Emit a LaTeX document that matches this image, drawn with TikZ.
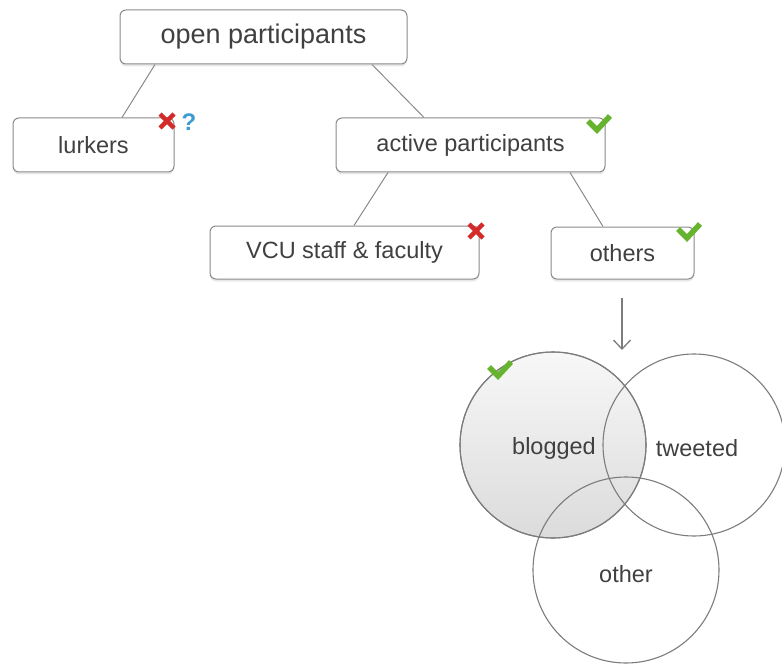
\documentclass[tikz,border=0pt]{standalone}
\usepackage{fontspec}
\setmainfont{Liberation Sans}
\usetikzlibrary{arrows.meta,shadows}
\definecolor{txt}{HTML}{404040}
\definecolor{edge}{HTML}{8A8A8A}
\definecolor{okgreen}{HTML}{66B32E}
\definecolor{nored}{HTML}{D42A2A}
\definecolor{qblue}{HTML}{3D9BD4}
\tikzset{
  box/.style={draw=edge, line width=1pt, rounded corners=6pt, fill=white,
    text=txt, font=\fontsize{23.5}{28}\selectfont, inner sep=0pt,
    drop shadow={shadow xshift=0pt, shadow yshift=-2.5pt, opacity=0.18}},
  link/.style={draw=edge, line width=1pt},
  venn/.style={circle, draw=edge!90!black, line width=1.1pt, inner sep=0pt,
    text=txt, font=\fontsize{23.5}{28}\selectfont, minimum size=186pt},
  chk/.pic={\draw[okgreen, line width=5.5pt, line join=miter] (-9,-9) -- (0,0) -- (13,-14);},
  nox/.pic={\draw[nored, line width=4.5pt] (-7,-7) -- (7,7) (-7,7) -- (7,-7);}
}
\begin{document}
\begin{tikzpicture}[x=1pt, y=-1pt]
\useasboundingbox (0,0) rectangle (782,666);
% boxes
\node[box, minimum width=287pt, minimum height=54pt, font=\fontsize{27}{32}\selectfont] (open) at (263.5,37) {open participants};
\node[box, minimum width=161pt, minimum height=54pt] (lurk) at (93.5,145) {lurkers};
\node[box, minimum width=269pt, minimum height=54pt] (act) at (470.5,145) {active participants};
\node[box, minimum width=269pt, minimum height=53pt] (vcu) at (344.5,252.5) {VCU staff \& faculty};
\node[box, minimum width=143pt, minimum height=52pt] (oth) at (622.5,253) {others};
% connectors
\draw[link] (open.south -| 155,0) -- (lurk.north -| 122,0);
\draw[link] (open.south -| 372,0) -- (act.north -| 424,0);
\draw[link] (act.south -| 388,0) -- (vcu.north -| 354,0);
\draw[link] (act.south -| 570,0) -- (oth.north -| 603,0);
% arrow
\coordinate (atop) at (622,298);
\coordinate (atip) at (622,350);
\draw[draw=edge!90!black, line width=1.2pt, -{Straight Barb[length=9pt,width=17pt,line width=1.3pt]}] (atop) -- (atip);
% venn
\node[venn, top color=gray!6, bottom color=gray!28, shading angle=0] (blog) at (553,445) {};
\node[venn, minimum size=182pt] (tw) at (694,445) {};
\node[venn] (othc) at (626,570) {};
\draw[draw=edge!90!black, line width=1.1pt] (blog) circle[radius=93pt];
\node[text=txt, font=\fontsize{23.5}{28}\selectfont] (lblog) at (554,448) {blogged};
\node[text=txt, font=\fontsize{23.5}{28}\selectfont] (ltw) at (697,448) {tweeted};
\node[text=txt, font=\fontsize{23.5}{28}\selectfont] (loth) at (626,574) {other};
% marks
\pic at (597,130) {chk};
\pic at (687,238) {chk};
\pic at (498,376) {chk};
\pic at (167,121) {nox};
\pic at (476,231) {nox};
\node[text=qblue, font=\bfseries\fontsize{24}{28}\selectfont] (q) at (189,122) {?};
\end{tikzpicture}
\end{document}
